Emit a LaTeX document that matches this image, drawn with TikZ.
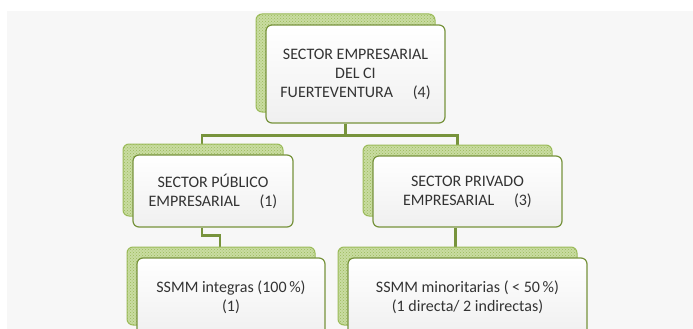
\documentclass[tikz,border=0pt]{standalone}
\usepackage{fontspec}
\setmainfont{Carlito}
\usetikzlibrary{shadows,patterns,backgrounds}
\definecolor{bggray}{HTML}{F7F7F7}
\definecolor{olive}{HTML}{77933C}
\definecolor{shadefill}{HTML}{C9DCA2}
\definecolor{shadedot}{HTML}{9BBB59}
\definecolor{textgray}{HTML}{333333}
\tikzset{
	orgbox/.style = {draw = olive, line width = 1.2pt, rounded corners = 6pt,
		top color = white, bottom color = black!6, align = center,
		text = textgray, font = \fontsize{16}{19}\selectfont,
		general shadow = {shadow xshift = -10pt, shadow yshift = 11pt,
			fill = shadefill, draw = shadedot, line width = 1pt},
		general shadow = {shadow xshift = -10pt, shadow yshift = 11pt,
			pattern = crosshatch dots, pattern color = shadedot}},
	link/.style = {draw = olive, line width = 2.5pt}
}
\begin{document}
\begin{tikzpicture}[x = 1pt, y = -1pt]
	\useasboundingbox (0,0) rectangle (693,329);
	
	% boxes
	\node[orgbox, minimum width = 179pt, minimum height = 98pt] (top) at (355.5, 74)
		{SECTOR EMPRESARIAL\\DEL CI\\FUERTEVENTURA\quad\ (4)};
	\node[orgbox, minimum width = 160pt, minimum height = 72pt] (pub) at (213, 191)
		{SECTOR PÚBLICO\\EMPRESARIAL\quad\ (1)};
	\node[orgbox, minimum width = 189pt, minimum height = 71pt] (priv) at (467.5, 191.5)
		{SECTOR PRIVADO\\EMPRESARIAL\quad\ (3)};
	\node[orgbox, minimum width = 188pt, minimum height = 78pt] (integ) at (231, 297)
		{SSMM integras (100\,\%)\\(1)};
	\node[orgbox, minimum width = 239pt, minimum height = 78pt] (minor) at (467.5, 297)
		{SSMM minoritarias ( < 50\,\%)\\(1 directa/ 2 indirectas)};
	
	\begin{scope}[on background layer]
		\fill[bggray] (7,11) rectangle (693,329);
		% connectors
		\draw[link] ([xshift=-10pt]top.south) -- ++(0,12) coordinate (bus);
		\draw[link] (bus) -| ([xshift=-11pt]pub.north);
		\draw[link] (bus) -| ([xshift=-10pt]priv.north);
		\draw[link] ([xshift=-11pt]pub.south) -- ++(0,8) -| ([xshift=-11pt]integ.north);
		\draw[link] ([xshift=-12pt]priv.south) -- ([xshift=-12pt]minor.north);
	\end{scope}
\end{tikzpicture}
\end{document}
